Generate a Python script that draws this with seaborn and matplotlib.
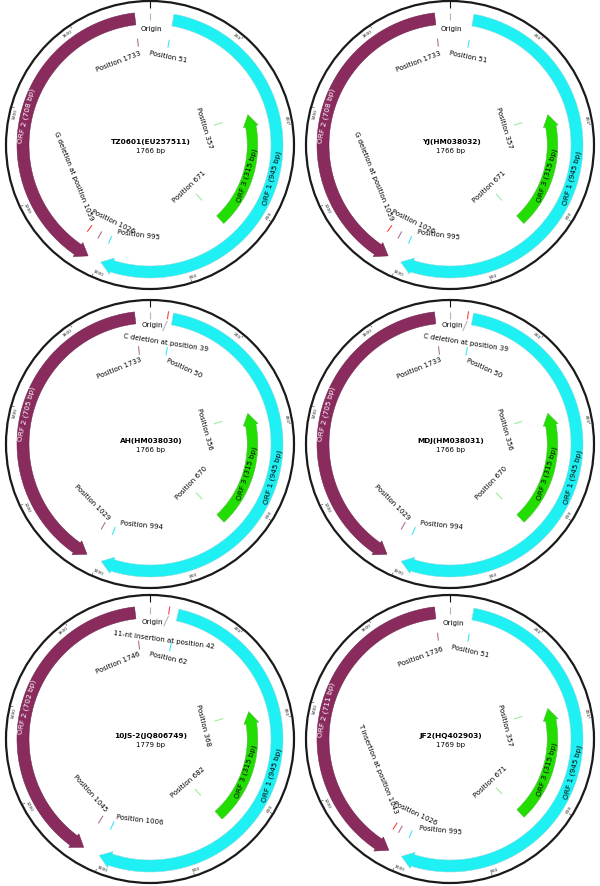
import numpy as np
import matplotlib
matplotlib.use("Agg")
import matplotlib.pyplot as plt
from matplotlib.patches import Polygon, Circle
import seaborn as sns

# ---------------- data ----------------
names = ["TZ0601(EU257511)", "YJ(HM038032)", "AH(HM038030)",
         "MDJ(HM038031)", "10JS-2(JQ806749)", "JF2(HQ402903)"]
genome_bp = [1766, 1766, 1766, 1766, 1779, 1769]
orf1 = [(51, 995), (51, 995), (50, 994), (50, 994), (62, 1006), (51, 995)]
orf2 = [(1733, 1026), (1733, 1026), (1733, 1029), (1733, 1029), (1746, 1045), (1736, 1026)]
orf3 = [(357, 671), (357, 671), (356, 670), (356, 670), (368, 682), (357, 671)]
mutation_pos = [1059, 1059, 39, 39, 42, 1043]
mutation_text = ["G deletion at position 1059", "G deletion at position 1059",
                 "C deletion at position 39", "C deletion at position 39",
                 "11-nt insertion at position 42", "T insertion at position 1043"]
tick_step = 200

# ---------------- layout ----------------
centers = [(150, 145), (450, 145), (150, 444), (450, 444), (150, 739), (450, 739)]
layA = dict(origin=(0.5, 116), p2s=(339, 89), p1s=(11.5, 90), p3s=(73, 57), p3e=(136.5, 57.5),
            p1e=(187.5, 91), p2e=(206, 85), mut=(248, 82))
layB = dict(origin=(1.2, 118.5), mut=(9.0, 102.5), p2s=(338, 82), p1s=(24.5, 83.5), p3s=(74.5, 56.5),
            p3e=(133.5, 57), p2e=(225, 82), p1e=(185.8, 82))
layC = dict(origin=(1.0, 117), mut=(7.8, 100), p2s=(337, 83), p1s=(12.6, 83), p3s=(76, 55),
            p3e=(139, 58), p2e=(228, 81), p1e=(187, 82))
layF = dict(origin=(1.5, 116), p2s=(340, 87), p1s=(12.8, 90), p3s=(76, 56.5), p3e=(137, 58.5),
            p1e=(186, 91.5), p2e=(205.3, 82), mut=(248, 78))
layouts = [layA, layA, layB, layB, layC, layF]
mut_outer = [False, False, True, True, True, False]
mark_r = [(99, 107), (99, 107), (90, 98.5), (90, 98.5), (90, 99), (99, 107)]

PURPLE = "#8a2b5e"
CYAN = "#1ff0f3"
GREEN = "#22dd00"
M_PURPLE = "#b0709a"
M_CYAN = "#3fe6f4"
M_GREEN = "#a0eca0"
M_RED = "#ff4040"
GRAY = "#b4b4b4"

sns.set_theme(style="white")
plt.rcParams['font.family'] = ['DejaVu Sans']

fig = plt.figure(figsize=(6, 8.86), dpi=100)
ax = fig.add_axes([0, 0, 1, 1])
ax.set_xlim(0, 600)
ax.set_ylim(886, 0)
ax.axis('off')

R_RING = 144
R_ORF = 127
W_ORF = 12
R_ORF3 = 102.5
W_ORF3 = 10.5


def pt(cx, cy, r, th):
    t = np.radians(th)
    return cx + r * np.sin(t), cy - r * np.cos(t)


def arc_pts(cx, cy, r, th0, th1, n=120):
    t = np.radians(np.linspace(th0, th1, n))
    return np.column_stack([cx + r * np.sin(t), cy - r * np.cos(t)])


def arrow(cx, cy, r, w, hw, th_start, th_tip, head_px, color, ec):
    sign = 1 if th_tip > th_start else -1
    head_deg = np.degrees(head_px / r)
    th_base = th_tip - sign * head_deg
    outer = arc_pts(cx, cy, r + w / 2, th_start, th_base)
    inner = arc_pts(cx, cy, r - w / 2, th_base, th_start)
    head = np.array([pt(cx, cy, r + hw / 2, th_base), pt(cx, cy, r, th_tip),
                     pt(cx, cy, r - hw / 2, th_base)])
    poly = np.vstack([outer, head, inner])
    ax.add_patch(Polygon(poly, closed=True, fc=color, ec=ec, lw=0.35, zorder=2))


def tan_rot(th):
    th = th % 360
    return 180 - th if 90 < th < 270 else -th


def ttext(cx, cy, th, r, s, size=5.0, color="black", weight="normal", ha="center"):
    x, y = pt(cx, cy, r, th)
    ax.text(x, y, s, rotation=tan_rot(th), rotation_mode='anchor', ha=ha, va='center',
            fontsize=size, color=color, fontweight=weight, zorder=5)


def radial(cx, cy, th, r0, r1, color, lw=0.8):
    x0, y0 = pt(cx, cy, r0, th)
    x1, y1 = pt(cx, cy, r1, th)
    ax.plot([x0, x1], [y0, y1], color=color, lw=lw, solid_capstyle='butt', zorder=3)


for i in range(6):
    cx, cy = centers[i]
    L = genome_bp[i]
    deg = lambda b: b / L * 360.0
    lay = layouts[i]

    # outer ring
    ax.add_patch(Circle((cx, cy), R_RING, fill=False, ec="#1a1a1a", lw=1.6, zorder=1))
    # ticks
    for b in range(tick_step, L, tick_step):
        th = deg(b)
        radial(cx, cy, th, 140.5, 143, "#333333", lw=0.4)
        top = not (90 < th < 270)
        ttext(cx, cy, th - (0.4 if top else -0.4), 138.5, str(b), size=3.2,
              color="#222222", ha="right" if top else "left")
    # origin
    radial(cx, cy, 0, 137, 144, "#111111", lw=0.8)
    radial(cx, cy, 0, 125, 132, GRAY, lw=0.8)
    ttext(cx, cy, *lay["origin"], "Origin", size=5.1)

    # ORFs
    s1, e1 = orf1[i]
    s2, e2 = orf2[i]
    s3, e3 = orf3[i]
    arrow(cx, cy, R_ORF, W_ORF, 17, deg(s1), deg(e1), 12, CYAN, "#8fd8da")
    arrow(cx, cy, R_ORF, W_ORF, 17, deg(s2), deg(e2), 12, PURPLE, "#6a2048")
    arrow(cx, cy, R_ORF3, W_ORF3, 15, deg(e3), deg(s3), 12, GREEN, "#55bb44")

    ttext(cx, cy, deg((s1 + e1) / 2) - 1.5, R_ORF, f"ORF 1 ({e1 - s1 + 1} bp)", size=5.3)
    ttext(cx, cy, deg((s2 + e2) / 2) + 2, R_ORF, f"ORF 2 ({s2 - e2 + 1} bp)", size=5.3, color="white")
    ttext(cx, cy, deg((s3 + e3) / 2) + 2.5, R_ORF3 - 1, f"ORF 3 ({e3 - s3 + 1} bp)", size=5.3)

    # position markers
    r0, r1 = mark_r[i]
    radial(cx, cy, deg(s2), r0, r1, M_PURPLE)
    radial(cx, cy, deg(s1), r0, r1, M_CYAN)
    radial(cx, cy, deg(e1), r0, r1, M_CYAN)
    radial(cx, cy, deg(e2), r0, r1, M_PURPLE)
    radial(cx, cy, deg(s3), 67, 76, M_GREEN)
    radial(cx, cy, deg(e3), 67, 76, M_GREEN)
    ttext(cx, cy, *lay["p2s"], f"Position {s2}")
    ttext(cx, cy, *lay["p1s"], f"Position {s1}")
    ttext(cx, cy, *lay["p3s"], f"Position {s3}")
    ttext(cx, cy, *lay["p3e"], f"Position {e3}")
    ttext(cx, cy, *lay["p1e"], f"Position {e1}")
    ttext(cx, cy, *lay["p2e"], f"Position {e2}")

    # mutation
    mth = deg(mutation_pos[i])
    if mut_outer[i]:
        radial(cx, cy, mth, 126, 134, M_RED)
        x0, y0 = pt(cx, cy, 124, mth)
        x1, y1 = pt(cx, cy, 114, mth - 1.5)
        ax.plot([x0, x1], [y0, y1], color=GRAY, lw=0.8, zorder=3)
    else:
        radial(cx, cy, mth, r0, r1, M_RED)
    ttext(cx, cy, *lay["mut"], mutation_text[i])

    # centre labels
    ax.text(cx + 1, cy - 3, names[i], ha='center', va='center', fontsize=5.3,
            fontweight='bold', color='black')
    ax.text(cx + 1, cy + 6, f"{L} bp", ha='center', va='center', fontsize=5.0, color='black')

fig.savefig("out.png", dpi=100, facecolor="white")
